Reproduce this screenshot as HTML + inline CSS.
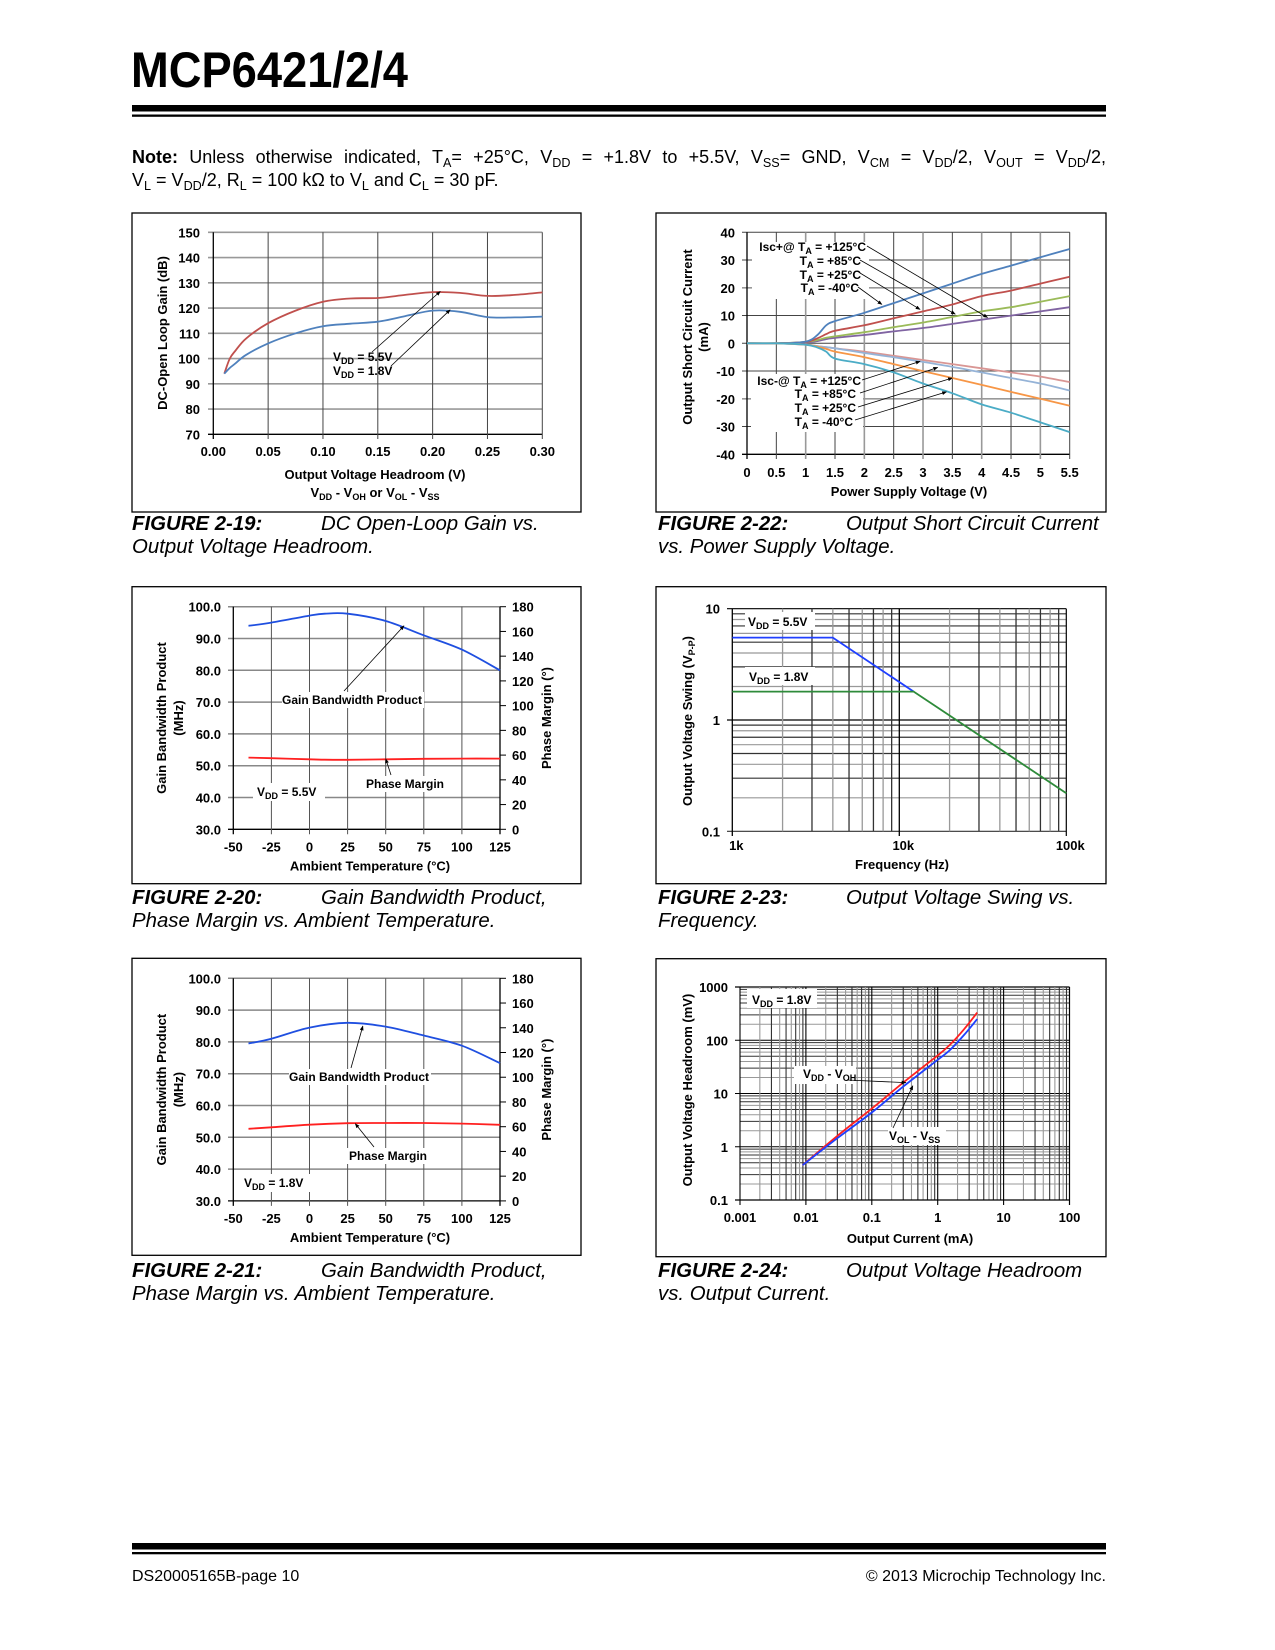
<!DOCTYPE html>
<html><head><meta charset="utf-8"><style>
html,body{margin:0;padding:0;background:#fff}
body{width:1275px;height:1650px;position:relative;overflow:hidden;font-family:"Liberation Sans",sans-serif;color:#000}
svg{position:absolute;left:0;top:0}
.note{position:absolute;left:132px;width:974px;font-size:18px;white-space:nowrap}
.cap{position:absolute;font-size:20.4px;font-style:italic;white-space:nowrap}
.cap b{font-weight:bold}
sub{font-size:70%;vertical-align:-4px;line-height:0}
.foot{position:absolute;top:1568px;font-size:16px}
</style></head><body>
<svg id="page" width="1275" height="1650" viewBox="0 0 1275 1650" font-family="Liberation Sans, sans-serif">
<defs><marker id="ah" viewBox="0 0 10 10" refX="9" refY="5" markerWidth="6" markerHeight="6" orient="auto"><path d="M0,1 L10,5 L0,9 z" fill="#000"/></marker></defs>
<text x="131" y="87" font-size="50" font-weight="bold" textLength="277" lengthAdjust="spacingAndGlyphs">MCP6421/2/4</text>
<rect x="132" y="105" width="974" height="6.5" fill="#000"/>
<rect x="132" y="114.5" width="974" height="2.3" fill="#000"/>
<rect x="132" y="1543" width="974" height="6.5" fill="#000"/>
<rect x="132" y="1552" width="974" height="2.3" fill="#000"/>
<g id="chartA"></g>
<g id="chartB"></g>
<g id="chartC"></g>
<g id="chartD"></g>
<g id="chartE"></g>
<g id="chartF"></g>
</svg>
<div class="note" style="top:147px;text-align:justify;text-align-last:justify"><b>Note:</b> Unless otherwise indicated, T<sub>A</sub>= +25°C, V<sub>DD</sub> = +1.8V to +5.5V, V<sub>SS</sub>= GND, V<sub>CM</sub> = V<sub>DD</sub>/2, V<sub>OUT</sub> = V<sub>DD</sub>/2,</div>
<div class="note" style="top:170px">V<sub>L</sub> = V<sub>DD</sub>/2, R<sub>L</sub> = 100 kΩ to V<sub>L</sub> and C<sub>L</sub> = 30 pF.</div>

<div class="cap" style="left:132px;top:513px"><b>FIGURE 2-19:</b><span style="position:absolute;left:189px">DC Open-Loop Gain vs.</span><br>Output Voltage Headroom.</div>
<div class="cap" style="left:658px;top:513px"><b>FIGURE 2-22:</b><span style="position:absolute;left:188px">Output Short Circuit Current</span><br>vs. Power Supply Voltage.</div>
<div class="cap" style="left:132px;top:887px"><b>FIGURE 2-20:</b><span style="position:absolute;left:189px">Gain Bandwidth Product,</span><br>Phase Margin vs. Ambient Temperature.</div>
<div class="cap" style="left:658px;top:887px"><b>FIGURE 2-23:</b><span style="position:absolute;left:188px">Output Voltage Swing vs.</span><br>Frequency.</div>
<div class="cap" style="left:132px;top:1260px"><b>FIGURE 2-21:</b><span style="position:absolute;left:189px">Gain Bandwidth Product,</span><br>Phase Margin vs. Ambient Temperature.</div>
<div class="cap" style="left:658px;top:1260px"><b>FIGURE 2-24:</b><span style="position:absolute;left:188px">Output Voltage Headroom</span><br>vs. Output Current.</div>
<div class="foot" style="left:132px">DS20005165B-page 10</div>
<div class="foot" style="right:169px">© 2013 Microchip Technology Inc.</div>

<script>
// ---------- data ----------
const A_x=[0.01,0.015,0.02,0.03,0.05,0.075,0.10,0.125,0.15,0.175,0.20,0.225,0.25,0.275,0.30];
const A_vdd55=[94,100,103,108,114,119,122.5,123.8,124,125.2,126.3,126,124.8,125.2,126.2];
const A_vdd18=[94,96.3,98,101.5,106,110,112.8,113.8,114.6,116.8,119,118.5,116.4,116.3,116.6];
const A_xticks=[0,0.05,0.10,0.15,0.20,0.25,0.30];
const A_xlabels=['0.00','0.05','0.10','0.15','0.20','0.25','0.30'];
const A_yticks=[70,80,90,100,110,120,130,140,150];

const B_v=[0,0.5,1,1.2,1.35,1.5,2,2.5,3,3.5,4,4.5,5,5.5];
const B_pos125=[0,0,0.6,3,6.5,8,11,14.5,18,21.5,25,28,31,34];
const B_pos85=[0,0,0.5,1.8,3.3,4.5,6.5,9,11.5,14,17,19,21.5,24];
const B_pos25=[0,0,0.5,1.2,2,2.5,4,5.8,7.5,9.5,11.5,13,15,17];
const B_posm40=[0,0,0.3,0.8,1.5,2,3,4.3,5.5,7,8.5,10,11.5,13];
const B_neg125=[0,0,-0.5,-1,-1.4,-1.8,-3,-4.5,-6,-7.5,-9,-10.5,-12,-14];
const B_neg85=[0,0,-0.5,-1,-1.4,-1.8,-3.5,-5,-6.7,-8.5,-10.5,-12.5,-14.5,-17];
const B_neg25=[0,0,-0.5,-1.2,-2,-3,-5,-7.5,-10,-12.5,-15,-17.5,-20,-22.5];
const B_negm40=[0,0,-0.5,-1.5,-3,-5.5,-7.5,-10.5,-14.5,-18,-22,-25,-28.5,-32];
const B_xticks=[0,0.5,1,1.5,2,2.5,3,3.5,4,4.5,5,5.5];
const B_yticks=[-40,-30,-20,-10,0,10,20,30,40];

const C_t=[-40,-25,0,10,25,50,75,100,125];
const C_gbw=[94,95,97.2,97.8,97.8,95.5,91,86.5,80];
const C_pm=[58,57.5,56.6,56.3,56.2,56.6,57,57.2,57.2];
const E_t=[-40,-25,0,25,50,75,100,125];
const E_gbw=[79.5,81,84.5,86,84.8,82,78.8,73.3];
const E_pm=[58.3,59.5,61.6,62.8,63,63,62.5,61.5];
const C_xticks=[-50,-25,0,25,50,75,100,125];
const C_lticks=[30,40,50,60,70,80,90,100];
const C_rticks=[0,20,40,60,80,100,120,140,160,180];

const D_f55=[1000,4000,12200];
const D_v55=[5.5,5.5,1.8];
const D_f18=[1000,12200,100000];
const D_v18=[1.8,1.8,0.22];

const F_i=[0.0089,0.03,0.1,0.3,1,1.5,2.5,3.98];
const F_voh=[0.45,1.6,5.2,16,52,80,160,330];
const F_vol=[0.45,1.45,4.4,13.5,43,64,125,250];

// ---------- helpers ----------
const NS='http://www.w3.org/2000/svg';
function el(tag,attrs,parent){const e=document.createElementNS(NS,tag);for(const k in attrs)e.setAttribute(k,attrs[k]);parent.appendChild(e);return e;}
function txt(s,x,y,attrs,parent){const t=el('text',Object.assign({x:x,y:y,'font-size':13,'font-weight':'bold'},attrs),parent);t.textContent=s;return t;}
function lin(v0,v1,p0,p1){return v=>p0+(v-v0)*(p1-p0)/(v1-v0);}
function lg(v0,v1,p0,p1){return v=>p0+(Math.log10(v)-Math.log10(v0))*(p1-p0)/(Math.log10(v1)-Math.log10(v0));}
function smooth(xs,ys,sx,sy){const p=xs.map((x,i)=>[sx(x),sy(ys[i])]);let d='M'+p[0][0].toFixed(1)+','+p[0][1].toFixed(1);
 for(let i=0;i<p.length-1;i++){const p0=p[i-1]||p[i],p1=p[i],p2=p[i+1],p3=p[i+2]||p2;
 const c1=[p1[0]+(p2[0]-p0[0])/6,p1[1]+(p2[1]-p0[1])/6],c2=[p2[0]-(p3[0]-p1[0])/6,p2[1]-(p3[1]-p1[1])/6];
 d+=' C'+c1.map(v=>v.toFixed(1))+' '+c2.map(v=>v.toFixed(1))+' '+p2.map(v=>v.toFixed(1));}return d;}
function poly(xs,ys,sx,sy){return 'M'+xs.map((x,i)=>sx(x).toFixed(1)+','+sy(ys[i]).toFixed(1)).join(' L');}
function box(g,x,y,w,h){const r=el('rect',{x:x,y:y,width:w,height:h,fill:'none',stroke:'#000','stroke-width':1.3},g);

}
function gl(g,x1,y1,x2,y2,c,w){const l=el('line',{x1:x1,y1:y1,x2:x2,y2:y2,stroke:c,'stroke-width':w},g);

return l;}
function arrow(g,x1,y1,x2,y2){const l=el('line',{x1:x1,y1:y1,x2:x2,y2:y2,stroke:'#000','stroke-width':0.8,'marker-end':'url(#ah)'},g);

}
function series(g,d,color,name,w){const p=el('path',{d:d,fill:'none',stroke:color,'stroke-width':w||1.8},g);

}
function label(g,html,x,y,anchor,name,size,rot){const t=el('text',{x:x,y:y,'font-size':size||13,'font-weight':'bold','text-anchor':anchor||'start'},g);
if(rot)t.setAttribute('transform','rotate(-90 '+x+' '+y+')');t.innerHTML=html;

return t;}
function whiteRect(g,x,y,w,h){const r=el('rect',{x:x,y:y,width:w,height:h,fill:'#fff'},g);

}
const SUB=s=>'<tspan font-size="9" dy="3">'+s+'</tspan><tspan dy="-3"> </tspan>';

// ---------- Chart A ----------
(function(){const g=document.getElementById('chartA');
box(g,132,213,449,299);
const sx=lin(0,0.3,213.3,542.3),sy=lin(70,150,434.3,232.3);
A_yticks.forEach(v=>{gl(g,208,sy(v),542.3,sy(v),v===70?'#000':'#999',v===70?1.3:1.6);
const t=txt(String(v),200,sy(v)+5,{'text-anchor':'end'},g);

});
A_xticks.forEach((v,i)=>{gl(g,sx(v),232.3,sx(v),439,i===0?'#000':'#444',i===0?1.3:1);
const t=txt(A_xlabels[i],sx(v),456,{'text-anchor':'middle'},g);

});
series(g,smooth(A_x,A_vdd55,sx,sy),'#c0504d','series-vdd-5v5');
series(g,smooth(A_x,A_vdd18,sx,sy),'#4f81bd','series-vdd-1v8');
arrow(g,372,352,sx(0.207),sy(126.6));arrow(g,391,366,sx(0.216),sy(119.3));
label(g,'V'+SUB('DD')+'= 5.5V',333,361,'start','annotation-vdd-5v5',12);
label(g,'V'+SUB('DD')+'= 1.8V',333,375,'start','annotation-vdd-1v8',12);
label(g,'Output Voltage Headroom (V)',375,479,'middle','x-axis-title');
label(g,'V'+SUB('DD')+'- V'+SUB('OH')+'or V'+SUB('OL')+'- V'+SUB('SS'),375,497,'middle','x-axis-subtitle');
label(g,'DC-Open Loop Gain (dB)',167,333,'middle','y-axis-title',13,true);
})();

// ---------- Chart B ----------
(function(){const g=document.getElementById('chartB');
box(g,656,213,450,299);
const sx=lin(0,5.5,747,1069.7),sy=lin(-40,40,454.3,232.3);
B_yticks.forEach(v=>{const major=(v%20===0&&v!==0&&Math.abs(v)!==40);gl(g,742,sy(v),1069.7,sy(v),v===-40?'#000':(major?'#999':'#444'),v===-40?1.3:(major?1.6:1));
const t=txt(String(v),735,sy(v)+5,{'text-anchor':'end'},g);

});
B_xticks.forEach(v=>{const major=Number.isInteger(v)&&v>0;gl(g,sx(v),232.3,sx(v),459,v===0?'#000':(major?'#999':'#444'),v===0?1.3:(major?1.6:1));
const t=txt(String(v),sx(v),477,{'text-anchor':'middle'},g);

});
whiteRect(g,752,242,117,57);whiteRect(g,751,374,112,58);
series(g,smooth(B_v,B_posm40,sx,sy),'#8064a2','series-isc-pos-m40');
series(g,smooth(B_v,B_pos25,sx,sy),'#9bbb59','series-isc-pos-25');
series(g,smooth(B_v,B_pos85,sx,sy),'#c0504d','series-isc-pos-85');
series(g,smooth(B_v,B_pos125,sx,sy),'#4f81bd','series-isc-pos-125');
series(g,smooth(B_v,B_neg125,sx,sy),'#d99694','series-isc-neg-125');
series(g,smooth(B_v,B_neg85,sx,sy),'#95b3d7','series-isc-neg-85');
series(g,smooth(B_v,B_neg25,sx,sy),'#f79646','series-isc-neg-25');
series(g,smooth(B_v,B_negm40,sx,sy),'#4bacc6','series-isc-neg-m40');
arrow(g,867,246,sx(4.1),sy(9.3));arrow(g,860,260,sx(3.55),sy(10.5));arrow(g,860,273,sx(2.95),sy(12.2));arrow(g,858,287,sx(2.3),sy(14));
arrow(g,862,380,sx(2.95),sy(-6.5));arrow(g,860,393,sx(3.25),sy(-8.7));arrow(g,858,407,sx(3.5),sy(-12.5));arrow(g,855,420,sx(3.4),sy(-17.5));
label(g,'Isc+@ T'+SUB('A')+'= +125°C',866,251,'end','annotation-isc-pos-125',12);
label(g,'T'+SUB('A')+'= +85°C',861,265,'end','annotation-isc-pos-85',12);
label(g,'T'+SUB('A')+'= +25°C',861,279,'end','annotation-isc-pos-25',12);
label(g,'T'+SUB('A')+'= -40°C',859,292,'end','annotation-isc-pos-m40',12);
label(g,'Isc-@ T'+SUB('A')+'= +125°C',861,385,'end','annotation-isc-neg-125',12);
label(g,'T'+SUB('A')+'= +85°C',856,398,'end','annotation-isc-neg-85',12);
label(g,'T'+SUB('A')+'= +25°C',856,412,'end','annotation-isc-neg-25',12);
label(g,'T'+SUB('A')+'= -40°C',853,426,'end','annotation-isc-neg-m40',12);
label(g,'Power Supply Voltage (V)',909,496,'middle','x-axis-title');
label(g,'Output Short Circuit Current',692,337,'middle','y-axis-title',13,true);
label(g,'(mA)',708,337,'middle','y-axis-title-unit',13,true);
})();

// ---------- GBW charts C & E ----------
function gbwChart(id,top,ts,gbw,pm,vddText,gbwLbl,pmLbl,vddPos,arrG,arrP){
const g=document.getElementById(id);
box(g,132,top,449,297);
const y100=top+20,y30=top+242.6;
const sx=lin(-50,125,233.3,500),sy=lin(30,100,y30,y100),sr=lin(0,180,y30,y100);
C_lticks.forEach(v=>{gl(g,228,sy(v),500,sy(v),v===30?'#000':'#888',v===30?1.3:1.5);
const t=txt(v.toFixed(1),221,sy(v)+5,{'text-anchor':'end'},g);

});
C_rticks.forEach(v=>{gl(g,500,sr(v),506,sr(v),'#000',1);
const t=txt(String(v),512,sr(v)+5,{},g);

});
C_xticks.forEach((v,i)=>{gl(g,sx(v),y100,sx(v),y30+5,(i===0||i===7)?'#000':'#555',(i===0||i===7)?1.3:1);
const t=txt(String(v),sx(v),y30+22,{'text-anchor':'middle'},g);

});
whiteRect(g,gbwLbl[0]-70,gbwLbl[1]-12,142,16);whiteRect(g,pmLbl[0]-42,pmLbl[1]-12,86,16);whiteRect(g,vddPos[0]-4,vddPos[1]-13,72,18);
series(g,smooth(ts,gbw,sx,sy),'#1f4fe0','series-gbw');
series(g,smooth(ts,pm,sx,sr),'#ff2020','series-phase-margin');
arrow(g,gbwLbl[0]-8,gbwLbl[1]-13,sx(arrG[0]),sy(arrG[1]));
arrow(g,pmLbl[0]-14,pmLbl[1]-13,sx(arrP[0]),sr(arrP[1]));
label(g,'Gain Bandwidth Product',gbwLbl[0],gbwLbl[1],'middle','annotation-gbw',12);
label(g,'Phase Margin',pmLbl[0],pmLbl[1],'middle','annotation-phase-margin',12);
label(g,'V'+SUB('DD')+'= '+vddText,vddPos[0],vddPos[1],'start','annotation-vdd',12);
label(g,'Ambient Temperature (°C)',370,y30+41,'middle','x-axis-title');
label(g,'Gain Bandwidth Product',166,(y100+y30)/2,'middle','y-axis-title',13,true);
label(g,'(MHz)',183,(y100+y30)/2,'middle','y-axis-title-unit',13,true);
label(g,'Phase Margin (°)',551,(y100+y30)/2,'middle','right-axis-title',13,true);
}
gbwChart('chartC',586.7,C_t,C_gbw,C_pm,'5.5V',[352,704],[405,788],[257,796],[62,94],[50,57]);
gbwChart('chartE',958.3,E_t,E_gbw,E_pm,'1.8V',[359,1081],[388,1160],[244,1187],[35,85],[30,62.5]);

// ---------- Chart D ----------
(function(){const g=document.getElementById('chartD');
box(g,656,586.7,450,297);
const sx=lg(1000,100000,732.3,1066.3),sy=lg(0.1,10,831.3,608.7);
for(let d=0.1;d<10;d*=10){for(let m=1;m<=9;m++){const v=d*m;gl(g,m===1?727:732.3,sy(v),1066.3,sy(v),m===1&&d>0.1?'#000':(m%2?'#333':'#999'),1.2);}}
gl(g,727,sy(10),1066.3,sy(10),'#000',1.2);
for(let d=1000;d<100000;d*=10){for(let m=1;m<=9;m++){const v=d*m;gl(g,sx(v),608.7,sx(v),m===1?836:831.3,m===1?'#000':(m%2?'#333':'#999'),1.3);}}
gl(g,sx(100000),608.7,sx(100000),836,'#000',1.2);
[[0.1,'0.1'],[1,'1'],[10,'10']].forEach(a=>{const t=txt(a[1],720,sy(a[0])+5,{'text-anchor':'end'},g);

});
[[1000,'1k'],[10000,'10k'],[100000,'100k']].forEach(a=>{const t=txt(a[1],sx(a[0])+4,850,{'text-anchor':'middle'},g);

});
whiteRect(g,745,612,70,18);whiteRect(g,745,667,70,18);
series(g,poly(D_f55,D_v55,sx,sy),'#1f3fff','series-vdd-5v5');
series(g,poly(D_f18,D_v18,sx,sy),'#2e8b3a','series-vdd-1v8');
label(g,'V'+SUB('DD')+'= 5.5V',748,626,'start','annotation-vdd-5v5',12);
label(g,'V'+SUB('DD')+'= 1.8V',749,681,'start','annotation-vdd-1v8',12);
label(g,'Frequency (Hz)',902,869,'middle','x-axis-title');
label(g,'Output Voltage Swing (V<tspan font-size="9" dy="3">P-P</tspan><tspan dy="-3">)</tspan>',692,721,'middle','y-axis-title',13,true);
})();

// ---------- Chart F ----------
(function(){const g=document.getElementById('chartF');
box(g,656,958.7,450,298);
const sx=lg(0.001,100,740,1069.5),sy=lg(0.1,1000,1200,987);
for(let d=0.1;d<1000;d*=10){for(let m=1;m<=9;m++){const v=d*m;gl(g,m===1?735:740,sy(v),1069.5,sy(v),m===1&&d>0.11?'#000':(m%2?'#333':'#999'),1);}}
gl(g,735,sy(1000),1069.5,sy(1000),'#000',1.2);
for(let d=0.001;d<100;d*=10){for(let m=1;m<=9;m++){const v=d*m;gl(g,sx(v),987,sx(v),m===1?1205:1200,m===1?'#000':(m%2?'#333':'#999'),1.1);}}
gl(g,sx(100),987,sx(100),1205,'#000',1.2);
gl(g,735,1200,1069.5,1200,'#000',1.3);
[[0.1,'0.1'],[1,'1'],[10,'10'],[100,'100'],[1000,'1000']].forEach(a=>{const t=txt(a[1],728,sy(a[0])+5,{'text-anchor':'end'},g);

});
[[0.001,'0.001'],[0.01,'0.01'],[0.1,'0.1'],[1,'1'],[10,'10'],[100,'100']].forEach(a=>{const t=txt(a[1],sx(a[0]),1222,{'text-anchor':'middle'},g);

});
whiteRect(g,747,989,70,19);whiteRect(g,794,1066,62,18);whiteRect(g,888,1127,58,18);
series(g,smooth(F_i,F_voh,sx,sy),'#ff2020','series-vdd-minus-voh');
series(g,smooth(F_i,F_vol,sx,sy),'#1f3fff','series-vol-minus-vss');
arrow(g,847,1080,sx(0.33),sy(16));arrow(g,893,1128,sx(0.42),sy(14));
label(g,'V'+SUB('DD')+'= 1.8V',752,1004,'start','annotation-vdd-1v8',12);
label(g,'V'+SUB('DD')+'- V'+SUB('OH'),803,1078,'start','annotation-vdd-voh',12);
label(g,'V'+SUB('OL')+'- V'+SUB('SS'),889,1140,'start','annotation-vol-vss',12);
label(g,'Output Current (mA)',910,1243,'middle','x-axis-title');
label(g,'Output Voltage Headroom (mV)',692,1090,'middle','y-axis-title',13,true);
})();
</script>
</body></html>
